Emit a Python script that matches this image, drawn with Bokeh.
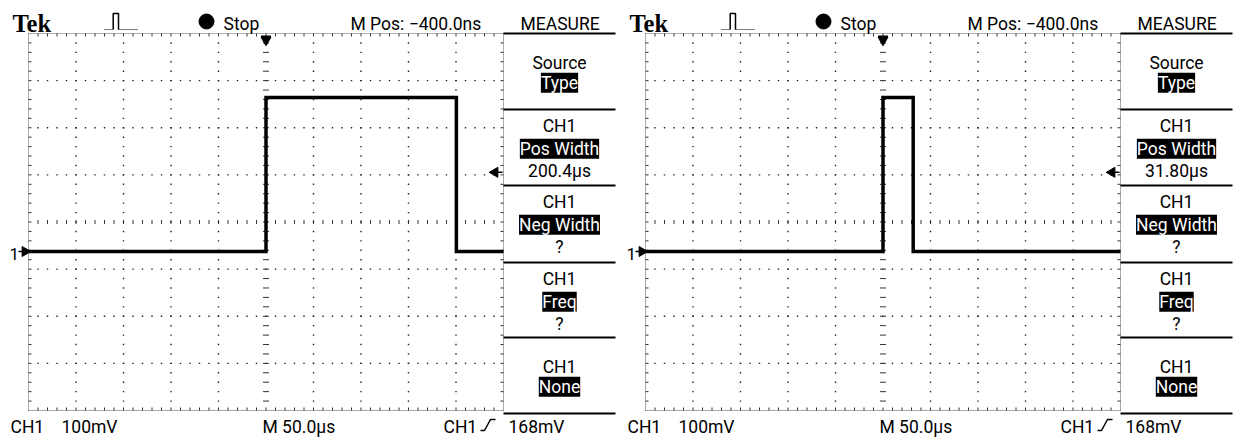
import math
import numpy as np
from bokeh.plotting import figure
from bokeh.models import Range1d, Label
from bokeh.layouts import row
from bokeh.embed import file_html
from bokeh.resources import INLINE

# ---------------- data (read from the two scope screens) ----------------
time_us_a = [-250.0, 0.0, 0.0, 200.4, 200.4, 250.0]
ch1_mV_a = [0.0, 0.0, 327.0, 327.0, 0.0, 0.0]
time_us_b = [-250.0, 0.0, 0.0, 31.8, 31.8, 250.0]
ch1_mV_b = [0.0, 0.0, 327.0, 327.0, 0.0, 0.0]

trigger_level_mV = 168.0
trigger_time_us = 0.0
ground_mV = 0.0

menu_titles = ["Source", "CH1", "CH1", "CH1", "CH1"]
menu_selected = ["Type", "Pos Width", "Neg Width", "Freq", "None"]
menu_values_a = [None, "200.4\u00b5s", "?", "?", None]
menu_values_b = [None, "31.80\u00b5s", "?", "?", None]

header_texts = ["Tek", "Stop", "M Pos: \u2212400.0ns", "MEASURE"]
footer_texts = ["CH1", "100mV", "M 50.0\u00b5s", "CH1", "168mV"]

# ---------------- layout (reference pixel space of one panel) ----------------
REF_W, REF_H = 617, 437
W, H = 617, 437
FS = (W / REF_W + H / REF_H) / 2
GL, GR, GT, GB = 28.0, 503.0, 33.0, 410.0
DIVX = (GR - GL) / 10.0
DIVY = (GB - GT) / 8.0
XC = (GL + GR) / 2.0
YC = (GT + GB) / 2.0
GROUND_PX = 251.0
US_PER_DIV = 50.0
MV_PER_DIV = 100.0
px_per_us = DIVX / US_PER_DIV
px_per_mV = DIVY / MV_PER_DIV
T_START = trigger_time_us - XC / px_per_us
T_END = trigger_time_us + (REF_W - XC) / px_per_us
V_START = (GROUND_PX - REF_H) / px_per_mV
V_END = GROUND_PX / px_per_mV

NARROW = "Roboto"
SERIF = "Liberation Serif"
BASE_FIX = 0.27  # empirical shift of the alphabetic baseline (in em)


def fsz(px):
    return f"{px * FS:.1f}px"


def lab(p, x, y, text, size=17.5, font=NARROW, align="left", color="black",
        bg=None, style="normal"):
    p.add_layout(Label(x=x, y=y - BASE_FIX * size, text=text, text_font=font,
                       text_font_size=fsz(size), text_align=align,
                       text_baseline="alphabetic", text_color=color,
                       background_fill_color=bg, text_font_style=style))


def make_panel(time_us, ch1_mV, menu_values):
    p = figure(width=W, height=H, x_range=Range1d(0, REF_W),
               y_range=Range1d(REF_H, 0), output_backend="svg",
               toolbar_location=None, min_border=0,
               x_axis_location=None, y_axis_location=None)
    p.grid.visible = False
    p.outline_line_color = None
    p.background_fill_color = "white"
    p.border_fill_color = "white"
    p.extra_x_ranges = {"t": Range1d(T_START, T_END)}
    p.extra_y_ranges = {"v": Range1d(V_START, V_END)}

    # ---- graticule ----
    minor_x = GL + (DIVX / 5) * np.arange(1, 50)
    minor_y = GT + (DIVY / 5) * np.arange(1, 40)
    rows_y = [GT + DIVY * k for k in (1, 2, 3, 5, 6, 7)]
    cols_x = [GL + DIVX * k for k in (1, 2, 3, 4, 6, 7, 8, 9)]
    dx, dy = [], []
    for yy in rows_y:
        dx.extend(minor_x)
        dy.extend([yy] * len(minor_x))
    for xx in cols_x:
        dx.extend([xx] * len(minor_y))
        dy.extend(minor_y)
    p.scatter(dx, dy, marker="square", size=1.4, color="#222222", line_width=0)

    # centre cross ticks
    p.segment(x0=[XC - 3] * len(minor_y), x1=[XC + 3] * len(minor_y),
              y0=minor_y, y1=minor_y, color="#333333", line_width=1)
    p.segment(x0=minor_x, x1=minor_x, y0=[YC - 2] * len(minor_x),
              y1=[YC + 2] * len(minor_x), color="#333333", line_width=1)

    # border
    p.segment(x0=[GL, GL, GL, GR], x1=[GR, GR, GL, GR],
              y0=[GT, GB, GT, GT], y1=[GT, GB, GB, GB],
              color="#555555", line_width=1, line_dash="1 1")
    n = len(minor_x)
    m = len(minor_y)
    p.segment(x0=minor_x, x1=minor_x, y0=[GT] * n, y1=[GT + 3] * n, color="#333333")
    p.segment(x0=minor_x, x1=minor_x, y0=[GB - 3] * n, y1=[GB] * n, color="#333333")
    p.segment(x0=[GL] * m, x1=[GL + 3] * m, y0=minor_y, y1=minor_y, color="#333333")
    p.segment(x0=[GR - 3] * m, x1=[GR] * m, y0=minor_y, y1=minor_y, color="#333333")

    # ---- waveform ----
    p.line(time_us, ch1_mV, x_range_name="t", y_range_name="v",
           line_width=3.5, color="black", line_join="miter")

    # ---- markers ----
    p.scatter([trigger_time_us], [39.5], x_range_name="t", marker="inverted_triangle",
              size=10, color="black")
    p.segment(x0=[trigger_time_us - 5 / px_per_us], x1=[trigger_time_us + 5 / px_per_us],
              y0=[36], y1=[36], x_range_name="t", color="black", line_width=2)
    # ground reference "1 ->"
    p.scatter([24.5], [ground_mV], y_range_name="v", marker="triangle",
              angle=-math.pi / 2, size=10, color="black")
    p.segment(x0=[18.0], x1=[28.0], y0=[ground_mV], y1=[ground_mV],
              y_range_name="v", color="black", line_width=1.5)
    lab(p, 9, GROUND_PX + 7, "1", size=17)
    # trigger level arrow
    p.scatter([494.5], [trigger_level_mV], y_range_name="v", marker="triangle",
              angle=math.pi / 2, size=10, color="black")
    p.segment(x0=[494.0], x1=[502.0], y0=[trigger_level_mV], y1=[trigger_level_mV],
              y_range_name="v", color="black", line_width=1.5)

    # ---- header ----
    lab(p, 12, 30, header_texts[0], size=24.5, font=SERIF, style="bold")
    p.line([104, 112.7], [29, 29], color="black", line_width=1, line_dash="1 1")
    p.line([112.7, 112.7, 118, 118], [29, 13, 13, 29], color="black", line_width=1.5)
    p.line([118, 137], [29, 29], color="black", line_width=1, line_dash="1 1")
    p.scatter([206], [21], marker="circle", size=15, color="black")
    lab(p, 223, 28, header_texts[1])
    lab(p, 350, 28, header_texts[2])
    lab(p, 520, 28, header_texts[3])

    # ---- menu ----
    seps = [33, 109, 185, 262, 337, 413]
    p.segment(x0=[503] * len(seps), x1=[615] * len(seps), y0=seps, y1=seps,
              color="black", line_width=2)
    mx = 559
    for i in range(5):
        s = seps[i]
        if menu_values[i] is None:
            lab(p, mx, s + 34, menu_titles[i], align="center")
            lab(p, mx, s + 54, menu_selected[i], align="center",
                color="white", bg="black")
        else:
            lab(p, mx, s + 21, menu_titles[i], align="center")
            lab(p, mx, s + 44, menu_selected[i], align="center",
                color="white", bg="black")
            lab(p, mx, s + 66, menu_values[i], align="center")

    # ---- footer ----
    lab(p, 10, 431, footer_texts[0])
    lab(p, 61, 431, footer_texts[1])
    lab(p, 262, 431, footer_texts[2])
    lab(p, 443, 431, footer_texts[3])
    p.line([480, 484, 490, 495], [430, 430, 419, 419], color="black", line_width=1.5)
    lab(p, 508, 431, footer_texts[4])
    return p


p1 = make_panel(time_us_a, ch1_mV_a, menu_values_a)
p2 = make_panel(time_us_b, ch1_mV_b, menu_values_b)
layout = row(p1, p2)

open("out.html", "w").write(file_html(layout, INLINE))
